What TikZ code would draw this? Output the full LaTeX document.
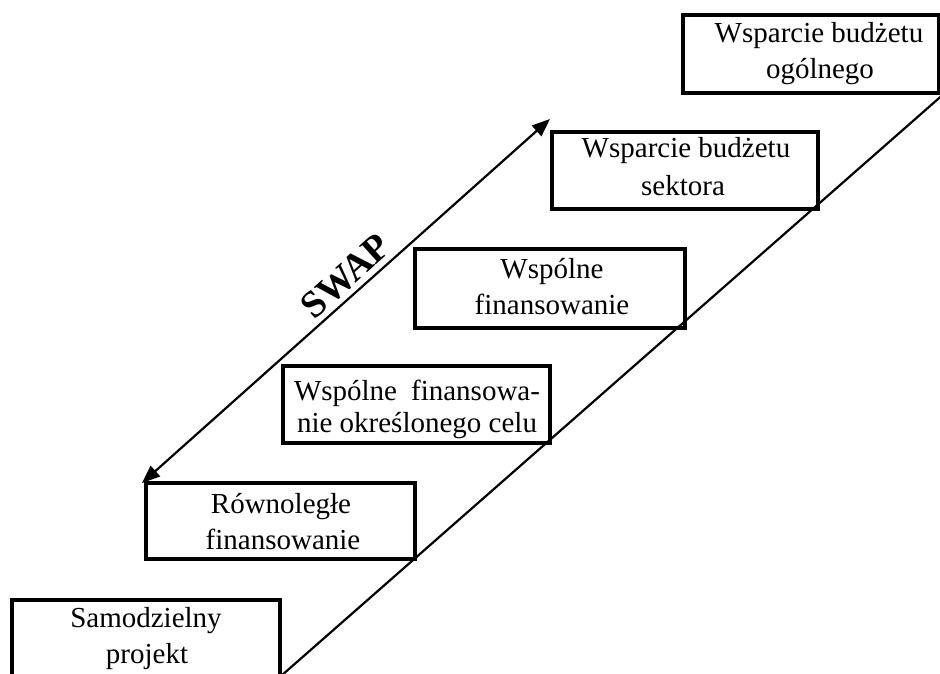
\documentclass[tikz,border=0pt]{standalone}
\usepackage{fontspec}
\setmainfont{Liberation Serif}
\usepackage{calc}
\usetikzlibrary{arrows.meta}
\tikzset{
  stepbox/.style={draw, line width=3.4pt, inner sep=0pt},
  boxtext/.style={anchor=base, inner sep=0pt, font=\fontsize{29}{36}\selectfont},
  swaptext/.style={anchor=base, inner sep=0pt, font=\fontsize{38}{42}\selectfont\bfseries, rotate=42},
  spanarrow/.style={line width=2.2pt, >={Triangle[length=18pt,width=14pt]}, <->},
}
\begin{document}
\begin{tikzpicture}[x=1pt,y=-1pt]
\useasboundingbox (0,0) rectangle (940,674);

% the six steps of the staircase
\node[stepbox, minimum width=268pt, minimum height=77pt] (b1) at (146,638.5) {};
\node[stepbox, minimum width=269pt, minimum height=76pt] (b2) at (280.5,521) {};
\node[stepbox, minimum width=267pt, minimum height=77pt] (b3) at (416.5,404.5) {};
\node[stepbox, minimum width=270pt, minimum height=79pt] (b4) at (550,288.5) {};
\node[stepbox, minimum width=266pt, minimum height=77pt] (b5) at (685,170.5) {};
\node[stepbox, minimum width=256pt, minimum height=78pt] (b6) at (811,54) {};

% step labels, one node per line
\node[boxtext] (b1a) at (146,627) {Samodzielny};
\node[boxtext] (b1b) at (147,663) {projekt};
\node[boxtext] (b2a) at (281,513) {Równoległe};
\node[boxtext] (b2b) at (283,549) {finansowanie};
\node[boxtext] (b3a) at (417,400) {\makebox[\widthof{nie określonego celu}+6pt][s]{Wspólne finansowa-}};
\node[boxtext] (b3b) at (417,432) {nie określonego celu};
\node[boxtext] (b4a) at (552,278) {Wspólne};
\node[boxtext] (b4b) at (552,314) {finansowanie};
\node[boxtext] (b5a) at (686,158) {Wsparcie budżetu};
\node[boxtext] (b5b) at (683,196) {sektora};
\node[boxtext] (b6a) at (819,43) {Wsparcie budżetu};
\node[boxtext] (b6b) at (820,79) {ogólnego};

% diagonal edge of the staircase
\coordinate (stairLo) at (281,676);
\coordinate (stairHi) at (946,92);
\draw[line width=2.2pt] (stairLo) -- (stairHi);

% SWAP span
\coordinate (swapLo) at (142,483);
\coordinate (swapHi) at (550,119);
\draw[spanarrow] (swapLo) -- (swapHi);
\node[swaptext] (swap) at (354,285) {SWAP};
\end{tikzpicture}
\end{document}
